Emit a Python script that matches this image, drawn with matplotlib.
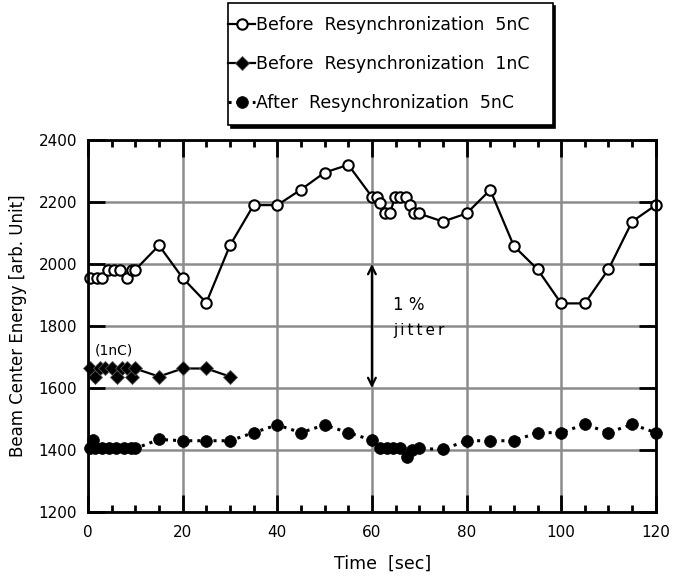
"""Beam center energy vs time, before/after resynchronization. Saves out.png."""
import numpy as np
import matplotlib
matplotlib.use("Agg")
import matplotlib.pyplot as plt
from matplotlib.legend_handler import HandlerLine2D
from matplotlib.ticker import MultipleLocator

# ---------------- data ----------------
t_before_5nc = [0.5, 1.8, 2.9, 4.3, 5.4, 6.8, 8.2, 9.2, 9.9, 15, 20, 25, 30, 35, 40, 45,
                50, 55, 60, 61, 61.7, 62.8, 63.8, 64.9, 66, 67.1, 68.1, 68.8, 69.9, 75,
                80, 85, 90, 95, 100, 105, 110, 115, 120]
e_before_5nc = [1955, 1955, 1955, 1980, 1980, 1980, 1955, 1980, 1980, 2060, 1955, 1875,
                2060, 2190, 2190, 2240, 2295, 2320, 2217, 2217, 2196, 2163, 2163, 2217,
                2217, 2217, 2190, 2163, 2163, 2137, 2163, 2239, 2058, 1983, 1873, 1873,
                1983, 2137, 2190]

t_before_1nc = [0.4, 1.5, 2.5, 3.6, 5.0, 6.1, 7.1, 8.2, 9.2, 9.9, 15, 20, 25, 30]
e_before_1nc = [1663, 1637, 1663, 1663, 1663, 1637, 1663, 1663, 1637, 1663,
                1637, 1663, 1663, 1637]

t_after_5nc = [0.4, 1.1, 1.5, 3, 4.5, 6, 7.5, 9, 10, 15, 20, 25, 30, 35, 40, 45, 50, 55,
               60, 61.7, 63.1, 64.5, 66, 67.4, 68.4, 70, 75, 80, 85, 90, 95, 100, 105,
               110, 115, 120]
e_after_5nc = [1405, 1432, 1405, 1405, 1405, 1405, 1405, 1405, 1405, 1434, 1430, 1430,
               1430, 1456, 1481, 1456, 1481, 1456, 1432, 1405, 1405, 1405, 1405, 1379,
               1400, 1405, 1402, 1430, 1430, 1430, 1456, 1456, 1483, 1456, 1483, 1456]

labels = ["Before  Resynchronization  5nC",
          "Before  Resynchronization  1nC",
          "After  Resynchronization  5nC"]

jitter_x = 60
jitter_lo, jitter_hi = 1600, 2000


class LeftMarker(HandlerLine2D):
    # marker at the left end of the legend line, as in the original
    def get_xdata(self, legend, xdescent, ydescent, width, height, fontsize):
        x0 = -xdescent - 9
        return np.array([x0, -xdescent + width]), np.array([x0])


fig = plt.figure(figsize=(6.74, 5.8), dpi=100)
ax = fig.add_axes([0.1306, 0.1172, 0.8424, 0.6414])

l1, = ax.plot(t_before_5nc, e_before_5nc, "-", color="black", lw=1.6, marker="o",
              ms=7.5, mfc="white", mec="black", mew=1.5, clip_on=False, zorder=4)
l2, = ax.plot(t_before_1nc, e_before_1nc, "-", color="black", lw=1.6, marker="D",
              ms=7, mfc="black", mec="#555555", mew=0.6, clip_on=False, zorder=4)
l3, = ax.plot(t_after_5nc, e_after_5nc, ":", color="black", lw=2.2, marker="o",
              ms=8.5, mfc="black", mec="black", mew=0.5, clip_on=False, zorder=4)

# 1 % jitter arrow
ax.annotate("", xy=(jitter_x, jitter_hi), xytext=(jitter_x, jitter_lo),
            arrowprops=dict(arrowstyle="<->", color="black", lw=1.6,
                            shrinkA=0, shrinkB=0, mutation_scale=14), zorder=5)
ax.text(64.5, 1867, "1 %", fontsize=12, va="center", ha="left")
ax.text(64.5, 1786, "j\u2009i\u2009t\u2009t\u2009e\u2009r", fontsize=11, va="center", ha="left")
ax.text(1.5, 1722, "(1nC)", fontsize=10, va="center", ha="left")

ax.set_xlim(0, 120)
ax.set_ylim(1200, 2400)
ax.xaxis.set_major_locator(MultipleLocator(20))
ax.xaxis.set_minor_locator(MultipleLocator(5))
ax.yaxis.set_major_locator(MultipleLocator(200))
ax.tick_params(which="both", direction="in", top=True, right=True, width=2, color="black")
ax.tick_params(which="major", length=12, labelsize=11, pad=8)
ax.tick_params(which="minor", length=5)
ax.tick_params(axis="x", which="major", pad=9)
ax.grid(True, which="major", color="#8c8c8c", lw=1.8)
ax.set_axisbelow(True)
for s in ax.spines.values():
    s.set_linewidth(2)
    s.set_zorder(6)

ax.set_xlabel("Time  [sec]", fontsize=12.5, labelpad=12)
ax.xaxis.set_label_coords(0.519, -0.115)
ax.set_ylabel("Beam Center Energy [arb. Unit]", fontsize=12, labelpad=8)

leg = fig.legend([l1, l2, l3], labels, loc="upper left",
                 bbox_to_anchor=(0.338, 0.995, 0.482, 0.0), mode="expand",
                 handler_map={l1: LeftMarker(), l2: LeftMarker(), l3: LeftMarker()},
                 handlelength=0.8, handletextpad=0.1, labelspacing=1.22,
                 fontsize=12.5, fancybox=False, edgecolor="black", framealpha=1,
                 borderpad=0.75, borderaxespad=0,
                 shadow={"color": "black", "alpha": 1, "ox": 2, "oy": -2})
leg.get_frame().set_linewidth(1.2)

fig.savefig("out.png", dpi=100)
